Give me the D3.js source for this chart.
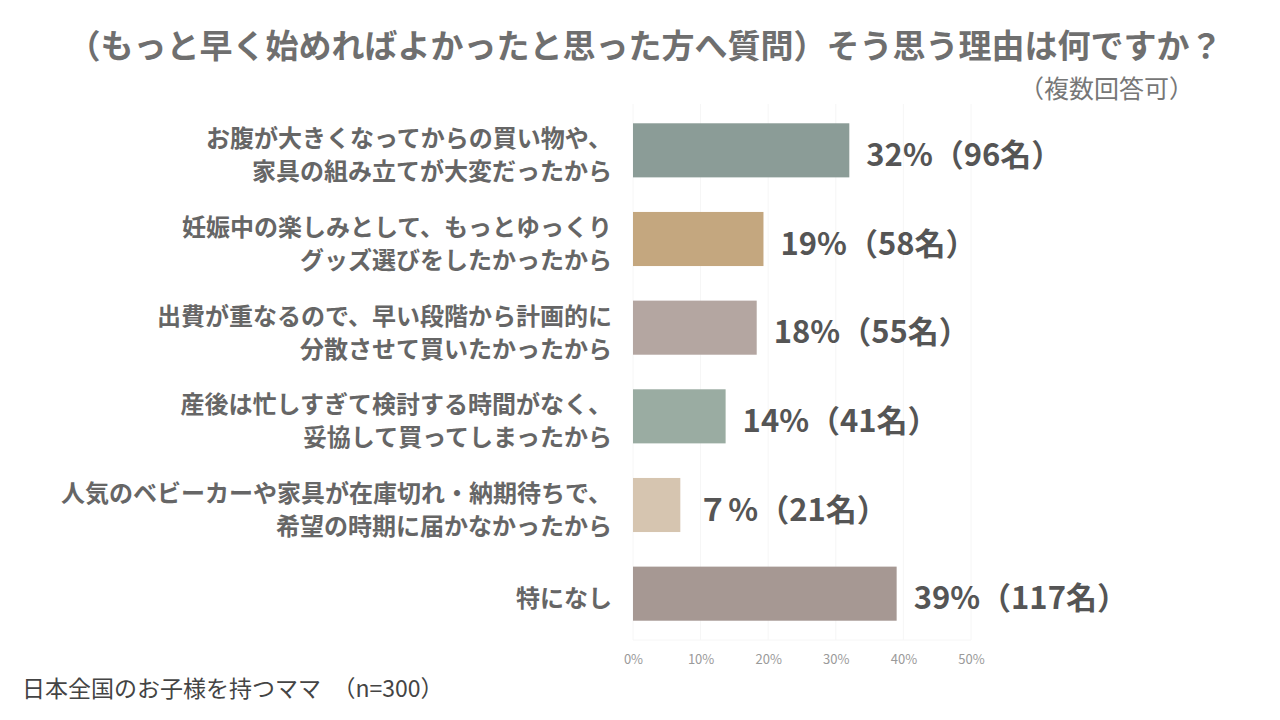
<!DOCTYPE html>
<html>
<head>
<meta charset="utf-8">
<script src="https://cdn.jsdelivr.net/npm/d3@7"></script>
<style>
  body { margin: 0; background: #fff; }
  text { font-family: "Noto Sans CJK JP", "Noto Sans", sans-serif; }
</style>
</head>
<body>
<div id="chart"></div>
<script>
// data
const categories = [
	["お腹が大きくなってからの買い物や、", "家具の組み立てが大変だったから"],
	["妊娠中の楽しみとして、もっとゆっくり", "グッズ選びをしたかったから"],
	["出費が重なるので、早い段階から計画的に", "分散させて買いたかったから"],
	["産後は忙しすぎて検討する時間がなく、", "妥協して買ってしまったから"],
	["人気のベビーカーや家具が在庫切れ・納期待ちで、", "希望の時期に届かなかったから"],
	["特になし"]
];
const percents = [32, 19.3, 18.3, 13.7, 7, 39];
const counts = [96, 58, 55, 41, 21, 117];
const valueLabels = ["32%（96名）", "19%（58名）", "18%（55名）", "14%（41名）", "７%（21名）", "39%（117名）"];
const tickValues = [0, 10, 20, 30, 40, 50];
const colors = ["#8b9c97", "#c4a77f", "#b4a6a1", "#9aaca2", "#d6c5b0", "#a69893"];

const width = 1280, height = 720;
const svg = d3.select("#chart").append("svg")
	.attr("width", width)
	.attr("height", height);

// title
svg.append("text")
	.attr("x", 645).attr("y", 58)
	.attr("text-anchor", "middle")
	.attr("font-size", 33).attr("font-weight", "bold")
	.attr("fill", "#6f6f6f")
	.text("（もっと早く始めればよかったと思った方へ質問）そう思う理由は何ですか？");

svg.append("text")
	.attr("x", 1194).attr("y", 98)
	.attr("text-anchor", "end")
	.attr("font-size", 25)
	.attr("fill", "#777")
	.text("（複数回答可）");

// scales
const x = d3.scaleLinear()
	.domain([0, 50])
	.range([633, 971]);

const y = d3.scaleBand()
	.domain(d3.range(categories.length))
	.range([106, 638])
	.paddingInner(0.39)
	.paddingOuter(0.195);

// faint grid
svg.append("g")
	.selectAll("line")
	.data(tickValues)
	.join("line")
		.attr("x1", d => x(d)).attr("x2", d => x(d))
		.attr("y1", 104).attr("y2", 640)
		.attr("stroke", "#f6f6f6")
		.attr("stroke-width", 1);
svg.append("line")
	.attr("x1", x(0)).attr("x2", x(50))
	.attr("y1", 640).attr("y2", 640)
	.attr("stroke", "#f6f6f6");

// x axis (labels only)
const xAxis = svg.append("g")
	.attr("transform", "translate(0,652)")
	.call(d3.axisBottom(x).tickValues(tickValues).tickFormat(d => d + "%").tickSize(0));
xAxis.select(".domain").remove();
xAxis.selectAll("text")
	.attr("font-family", "'Liberation Sans', Arial, sans-serif")
	.attr("font-size", 13)
	.attr("fill", "#9a9a9a");

// bars
svg.append("g")
	.selectAll("rect")
	.data(percents)
	.join("rect")
		.attr("x", x(0))
		.attr("y", (d, i) => y(i))
		.attr("width", d => x(d) - x(0))
		.attr("height", y.bandwidth())
		.attr("fill", (d, i) => colors[i]);

// value labels
svg.append("g")
	.selectAll("text")
	.data(percents)
	.join("text")
		.attr("x", d => x(d) + 17)
		.attr("y", (d, i) => y(i) + y.bandwidth() / 2 + 2)
		.attr("dominant-baseline", "central")
		.attr("font-size", 31).attr("font-weight", "bold")
		.attr("fill", "#555")
		.text((d, i) => valueLabels[i]);

// category labels
const cat = svg.append("g")
	.selectAll("text")
	.data(categories)
	.join("text")
		.attr("text-anchor", "end")
		.attr("font-size", 24).attr("font-weight", "bold")
		.attr("fill", "#666");
cat.each(function(lines, i) {
	const cy = y(i) + y.bandwidth() / 2 + 3;
	const t = d3.select(this);
	lines.forEach((line, j) => {
		t.append("tspan")
			.attr("x", 612)
			.attr("y", cy + (j - (lines.length - 1) / 2) * 33)
			.attr("dominant-baseline", "central")
			.text(line);
	});
});

// footer
svg.append("text")
	.attr("x", 22).attr("y", 697)
	.attr("font-size", 23)
	.attr("fill", "#444")
	.text("日本全国のお子様を持つママ　（n=300）");
</script>
</body>
</html>
